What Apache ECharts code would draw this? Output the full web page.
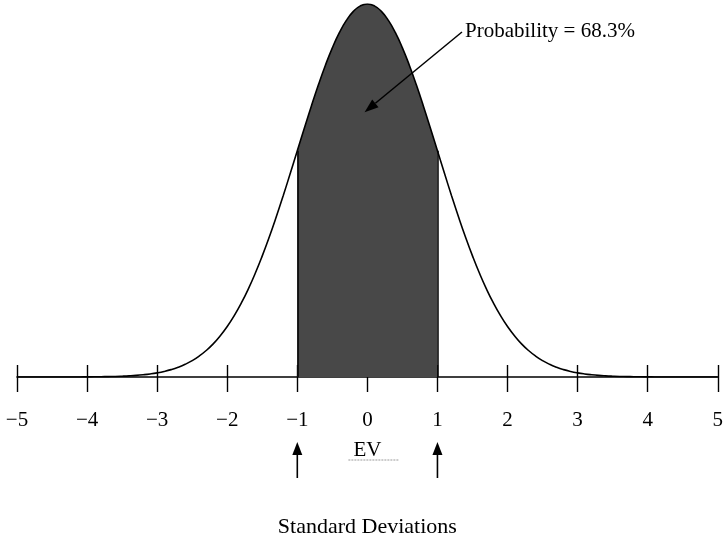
<!DOCTYPE html>
<html>
<head>
<meta charset="utf-8">
<script src="https://cdn.jsdelivr.net/npm/echarts@6/dist/echarts.min.js"></script>
<style>html,body{margin:0;padding:0;background:#fff}#c{width:726px;height:541px}</style>
</head>
<body>
<div id="c"></div>
<script>
// Tick labels on the axis (standard deviations)
const xTicks = [-5, -4, -3, -2, -1, 0, 1, 2, 3, 4, 5];
// Curve sample points, x in standard deviations, relative height (peak = 1)
const curveX = [-5, -4.9, -4.8, -4.7, -4.6, -4.5, -4.4, -4.3, -4.2, -4.1, -4, -3.9, -3.8, -3.7, -3.6, -3.5, -3.4, -3.3, -3.2, -3.1, -3, -2.9, -2.8, -2.7, -2.6, -2.5, -2.4, -2.3, -2.2, -2.1, -2, -1.9, -1.8, -1.7, -1.6, -1.5, -1.4, -1.3, -1.2, -1.1, -1, -0.9, -0.8, -0.7, -0.6, -0.5, -0.4, -0.3, -0.2, -0.1, 0, 0.1, 0.2, 0.3, 0.4, 0.5, 0.6, 0.7, 0.8, 0.9, 1, 1.1, 1.2, 1.3, 1.4, 1.5, 1.6, 1.7, 1.8, 1.9, 2, 2.1, 2.2, 2.3, 2.4, 2.5, 2.6, 2.7, 2.8, 2.9, 3, 3.1, 3.2, 3.3, 3.4, 3.5, 3.6, 3.7, 3.8, 3.9, 4, 4.1, 4.2, 4.3, 4.4, 4.5, 4.6, 4.7, 4.8, 4.9, 5];
const curveY = [0, 0, 0, 0, 0, 0, 0, 0.0001, 0.0001, 0.0002, 0.0003, 0.0005, 0.0007, 0.0011, 0.0015, 0.0022, 0.0031, 0.0043, 0.0060, 0.0082, 0.0111, 0.0149, 0.0198, 0.0261, 0.0340, 0.0439, 0.0561, 0.0710, 0.0889, 0.1103, 0.1353, 0.1645, 0.1979, 0.2357, 0.2780, 0.3247, 0.3753, 0.4296, 0.4868, 0.5461, 0.6065, 0.6670, 0.7261, 0.7827, 0.8353, 0.8825, 0.9231, 0.9560, 0.9802, 0.9950, 1, 0.9950, 0.9802, 0.9560, 0.9231, 0.8825, 0.8353, 0.7827, 0.7261, 0.6670, 0.6065, 0.5461, 0.4868, 0.4296, 0.3753, 0.3247, 0.2780, 0.2357, 0.1979, 0.1645, 0.1353, 0.1103, 0.0889, 0.0710, 0.0561, 0.0439, 0.0340, 0.0261, 0.0198, 0.0149, 0.0111, 0.0082, 0.0060, 0.0043, 0.0031, 0.0022, 0.0015, 0.0011, 0.0007, 0.0005, 0.0003, 0.0002, 0.0001, 0.0001, 0, 0, 0, 0, 0, 0, 0];
// Shaded region (-1 to +1 standard deviation)
const shadeX = [-1, -0.9, -0.8, -0.7, -0.6, -0.5, -0.4, -0.3, -0.2, -0.1, 0, 0.1, 0.2, 0.3, 0.4, 0.5, 0.6, 0.7, 0.8, 0.9, 1];
const shadeY = [0.6065, 0.6670, 0.7261, 0.7827, 0.8353, 0.8825, 0.9231, 0.9560, 0.9802, 0.9950, 1, 0.9950, 0.9802, 0.9560, 0.9231, 0.8825, 0.8353, 0.7827, 0.7261, 0.6670, 0.6065];
const annotation = 'Probability = 68.3%';
const axisTitle = 'Standard Deviations';
const evLabel = 'EV';

const FONT = '"Liberation Serif", "DejaVu Serif", serif';
const chart = echarts.init(document.getElementById('c'));
const curveData = curveX.map((x, i) => [x, curveY[i]]);
const shadeData = shadeX.map((x, i) => [x, shadeY[i]]);

const option = {
  animation: false,
  backgroundColor: '#fff',
  grid: { left: 17, right: 8, top: 4, bottom: 164 },
  xAxis: [
    {
      type: 'value', min: xTicks[0], max: xTicks[xTicks.length - 1], interval: 1, position: 'bottom',
      axisLine: { show: true, onZero: false, lineStyle: { color: '#000', width: 1.6 } },
      axisTick: { show: true, inside: false, length: 15, lineStyle: { color: '#000', width: 1.4 } },
      axisLabel: {
        show: true, margin: 33, color: '#000', fontFamily: FONT, fontSize: 21,
        formatter: v => (v < 0 ? '\u2212' + Math.abs(v) : String(v))
      },
      splitLine: { show: false }
    },
    {
      type: 'value', min: xTicks[0], max: xTicks[xTicks.length - 1], interval: 1, position: 'bottom',
      axisLine: { show: false, onZero: false },
      axisTick: { show: true, inside: true, length: 12, lineStyle: { color: '#000', width: 1.4 } },
      axisLabel: { show: false },
      splitLine: { show: false }
    }
  ],
  yAxis: { type: 'value', min: 0, max: 1, show: false },
  series: [
    {
      type: 'line', xAxisIndex: 0, data: shadeData, smooth: true, symbol: 'none',
      lineStyle: { width: 0, color: '#484848' },
      areaStyle: { color: '#484848', opacity: 1 },
      z: 2,
      markLine: {
        silent: true, symbol: 'none', animation: false,
        label: { show: false },
        lineStyle: { color: '#000', width: 1.5, type: 'solid' },
        data: [
          [{ coord: [shadeX[0], 0] }, { coord: [shadeX[0], shadeY[0]] }],
          [{ coord: [shadeX[shadeX.length - 1], 0] }, { coord: [shadeX[shadeX.length - 1], shadeY[shadeY.length - 1]] }]
        ]
      }
    },
    {
      type: 'line', xAxisIndex: 0, data: curveData, smooth: true, symbol: 'none',
      lineStyle: { color: '#000', width: 1.6 }, z: 3
    }
  ]
};
chart.setOption(option);

// annotations positioned through the chart's scales
const px = (x, y) => chart.convertToPixel({ gridIndex: 0 }, [x, y]);
const axisY = px(0, 0)[1];
const g = [];
// Probability arrow
const aStart = px(1.35, 0.925);
const aEnd = px(-0.04, 0.71);
const ang = Math.atan2(aEnd[1] - aStart[1], aEnd[0] - aStart[0]);
const hl = 14, hw = 5;
const bx = aEnd[0] - hl * Math.cos(ang), by = aEnd[1] - hl * Math.sin(ang);
g.push({ type: 'line', shape: { x1: aStart[0], y1: aStart[1], x2: bx, y2: by }, style: { stroke: '#000', lineWidth: 1.5 }, z: 10 });
g.push({ type: 'polygon', shape: { points: [aEnd, [bx + hw * Math.sin(ang), by - hw * Math.cos(ang)], [bx - hw * Math.sin(ang), by + hw * Math.cos(ang)]] }, style: { fill: '#000' }, z: 10 });
g.push({ type: 'text', x: aStart[0] + 3, y: aStart[1], style: { text: annotation, fontFamily: FONT, fontSize: 21, fill: '#000', textVerticalAlign: 'middle', textAlign: 'left' }, z: 10 });
// up arrows at -1 and +1
[shadeX[0], shadeX[shadeX.length - 1]].forEach(v => {
  const x = px(v, 0)[0];
  g.push({ type: 'line', shape: { x1: x, y1: axisY + 101, x2: x, y2: axisY + 76 }, style: { stroke: '#000', lineWidth: 1.6 }, z: 10 });
  g.push({ type: 'polygon', shape: { points: [[x, axisY + 65], [x - 5, axisY + 78], [x + 5, axisY + 78]] }, style: { fill: '#000' }, z: 10 });
});
// EV label with dotted underline
const x0 = px(0, 0)[0];
g.push({ type: 'text', x: x0, y: axisY + 73, style: { text: evLabel, fontFamily: FONT, fontSize: 21, fill: '#000', textAlign: 'center', textVerticalAlign: 'middle' }, z: 10 });
g.push({ type: 'line', shape: { x1: x0 - 19, y1: axisY + 83, x2: x0 + 31, y2: axisY + 83 }, style: { stroke: '#999', lineWidth: 1, lineDash: [2, 1] }, z: 10 });
// axis title
g.push({ type: 'text', x: x0, y: axisY + 150, style: { text: axisTitle, fontFamily: FONT, fontSize: 22, fill: '#000', textAlign: 'center', textVerticalAlign: 'middle' }, z: 10 });
chart.setOption({ graphic: g });
</script>
</body>
</html>
